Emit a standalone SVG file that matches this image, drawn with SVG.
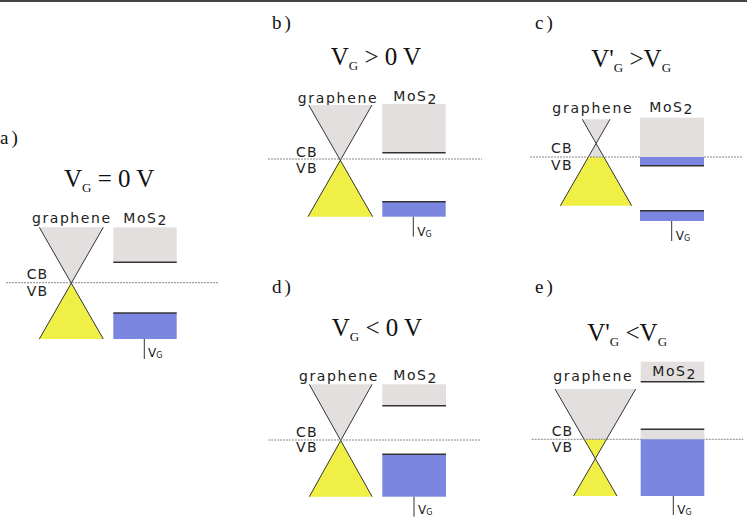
<svg xmlns="http://www.w3.org/2000/svg" width="749" height="518" viewBox="0 0 749 518">
<style>
.lab{font-family:"Liberation Serif","Times New Roman",serif;font-size:19px;fill:#111;letter-spacing:3px}
.ttl{font-family:"Liberation Serif","Times New Roman",serif;font-size:25px;fill:#111}
.sub{font-size:13px}
.sm{font-family:"DejaVu Sans",Verdana,sans-serif;font-size:14px;fill:#222}
.vg{font-family:"DejaVu Sans",Verdana,sans-serif;font-size:12px;fill:#222}
.vgs{font-size:8px}
.gray{fill:#e3dfdf}
.yel{fill:#efef45}
.blue{fill:#7b86e0}
.edge{stroke:#333;stroke-width:1.6;fill:none}
.cone{stroke:#333;stroke-width:1;fill:none}
.dash{stroke:#888;stroke-width:1;stroke-dasharray:2 1;fill:none}
.tick{stroke:#333;stroke-width:1;fill:none}
</style>
<rect x="0" y="0" width="749" height="518" fill="#fff"/>
<line x1="0" y1="1" x2="747" y2="1" stroke="#444" stroke-width="2"/>

<!-- panel a -->
<g id="panel-a">
<text class="lab" x="0" y="144">a)</text>
<text class="ttl" x="64" y="187">V<tspan class="sub" dy="5">G</tspan><tspan dy="-5"> = 0 V</tspan></text>
<text class="sm" x="32" y="222.7" textLength="78" lengthAdjust="spacing">graphene</text>
<text class="sm" x="123.3" y="222.7" textLength="43" lengthAdjust="spacing">MoS<tspan dy="2.5">2</tspan></text>
<polygon class="gray" points="39.3,227.3 103.3,227.3 71.3,283.5"/>
<polygon class="yel" points="71.3,283.5 39.3,339 103.3,339"/>
<line class="cone" x1="39.3" y1="227.3" x2="103.3" y2="339"/>
<line class="cone" x1="103.3" y1="227.3" x2="39.3" y2="339"/>
<line class="dash" x1="6" y1="282.7" x2="219" y2="282.7"/>
<text class="sm" x="26.7" y="279.3" textLength="20.5" lengthAdjust="spacing">CB</text>
<text class="sm" x="26.7" y="296" textLength="20.5" lengthAdjust="spacing">VB</text>
<rect class="gray" x="113.3" y="227.3" width="63.4" height="35"/>
<line class="edge" x1="113.3" y1="262.3" x2="176.7" y2="262.3"/>
<rect class="blue" x="113.3" y="313" width="63.4" height="26"/>
<line class="edge" x1="113.3" y1="313" x2="176.7" y2="313"/>
<line class="tick" x1="144.3" y1="339" x2="144.3" y2="359"/>
<text class="vg" x="148" y="357">V<tspan class="vgs" dy="1">G</tspan></text>
</g>

<!-- panel b -->
<g id="panel-b">
<text class="lab" x="272" y="29">b)</text>
<text class="ttl" x="330.7" y="65">V<tspan class="sub" dy="5">G</tspan><tspan dy="-5"> &gt; 0 V</tspan></text>
<text class="sm" x="297.7" y="102.7" textLength="79" lengthAdjust="spacing">graphene</text>
<text class="sm" x="393.3" y="101" textLength="43" lengthAdjust="spacing">MoS<tspan dy="2.5">2</tspan></text>
<polygon class="gray" points="308.7,105 372,105 340.3,160"/>
<polygon class="yel" points="340.3,160 308,216.7 372.6,216.7"/>
<line class="cone" x1="308.7" y1="105" x2="372.6" y2="216.7"/>
<line class="cone" x1="372" y1="105" x2="308" y2="216.7"/>
<line class="dash" x1="268" y1="159" x2="482" y2="159"/>
<text class="sm" x="296" y="156.7" textLength="20.5" lengthAdjust="spacing">CB</text>
<text class="sm" x="296" y="172.7" textLength="20.5" lengthAdjust="spacing">VB</text>
<rect class="gray" x="382.3" y="104" width="63.4" height="48.7"/>
<line class="edge" x1="382.3" y1="152.7" x2="445.7" y2="152.7"/>
<rect class="blue" x="382.3" y="201.7" width="63.4" height="15"/>
<line class="edge" x1="382.3" y1="201.7" x2="445.7" y2="201.7"/>
<line class="tick" x1="413.3" y1="216.7" x2="413.3" y2="236.7"/>
<text class="vg" x="417.3" y="236">V<tspan class="vgs" dy="1">G</tspan></text>
</g>

<!-- panel c -->
<g id="panel-c">
<text class="lab" x="535" y="29">c)</text>
<text class="ttl" x="591.3" y="66.7">V'<tspan class="sub" dy="5">G</tspan><tspan dy="-5"> &gt;V</tspan><tspan class="sub" dy="5">G</tspan></text>
<text class="sm" x="552.3" y="112.7" textLength="79.4" lengthAdjust="spacing">graphene</text>
<text class="sm" x="649.3" y="111.7" textLength="43" lengthAdjust="spacing">MoS<tspan dy="2.5">2</tspan></text>
<polygon class="gray" points="582.3,119.3 610,119.3 596.1,143.3"/>
<polygon class="gray" points="596.1,143.3 603.9,157 588.3,157"/>
<polygon class="yel" points="588.3,157 603.9,157 631.7,205.7 560.4,205.7"/>
<line class="cone" x1="582.3" y1="119.3" x2="631.7" y2="205.7"/>
<line class="cone" x1="610" y1="119.3" x2="560.4" y2="205.7"/>
<line class="dash" x1="530" y1="157" x2="742" y2="157"/>
<text class="sm" x="551" y="153.3" textLength="20.5" lengthAdjust="spacing">CB</text>
<text class="sm" x="551" y="170" textLength="20.5" lengthAdjust="spacing">VB</text>
<rect class="gray" x="640" y="117.7" width="64" height="39.3"/>
<rect class="blue" x="640" y="157" width="64" height="8.7"/>
<line class="edge" x1="640" y1="165.7" x2="704" y2="165.7"/>
<rect class="blue" x="640" y="210.7" width="64" height="10.3"/>
<line class="edge" x1="640" y1="210.7" x2="704" y2="210.7"/>
<line class="tick" x1="671.7" y1="221" x2="671.7" y2="241"/>
<text class="vg" x="675.7" y="240">V<tspan class="vgs" dy="1">G</tspan></text>
</g>

<!-- panel d -->
<g id="panel-d">
<text class="lab" x="272" y="293.3">d)</text>
<text class="ttl" x="331.7" y="336">V<tspan class="sub" dy="5">G</tspan><tspan dy="-5"> &lt; 0 V</tspan></text>
<text class="sm" x="299" y="381" textLength="78.3" lengthAdjust="spacing">graphene</text>
<text class="sm" x="393.3" y="380" textLength="43" lengthAdjust="spacing">MoS<tspan dy="2.5">2</tspan></text>
<polygon class="gray" points="309.3,384.3 372.1,384.3 340.7,440.5"/>
<polygon class="yel" points="340.7,440.5 309.3,496.7 372.1,496.7"/>
<line class="cone" x1="309.3" y1="384.3" x2="372.1" y2="496.7"/>
<line class="cone" x1="372.1" y1="384.3" x2="309.3" y2="496.7"/>
<line class="dash" x1="268" y1="440" x2="480" y2="440"/>
<text class="sm" x="296" y="436.7" textLength="20.5" lengthAdjust="spacing">CB</text>
<text class="sm" x="296" y="452.3" textLength="20.5" lengthAdjust="spacing">VB</text>
<rect class="gray" x="382.3" y="384.3" width="63.7" height="21.4"/>
<line class="edge" x1="382.3" y1="405.7" x2="446" y2="405.7"/>
<rect class="blue" x="382.3" y="454.3" width="63.7" height="42.4"/>
<line class="edge" x1="382.3" y1="454.3" x2="446" y2="454.3"/>
<line class="tick" x1="414" y1="496.7" x2="414" y2="516.7"/>
<text class="vg" x="418" y="514">V<tspan class="vgs" dy="1">G</tspan></text>
</g>

<!-- panel e -->
<g id="panel-e">
<text class="lab" x="535" y="293.3">e)</text>
<text class="ttl" x="587.3" y="341">V'<tspan class="sub" dy="5">G</tspan><tspan dy="-5"> &lt;V</tspan><tspan class="sub" dy="5">G</tspan></text>
<text class="sm" x="553.3" y="381" textLength="78.4" lengthAdjust="spacing">graphene</text>
<rect class="gray" x="640.7" y="361.7" width="63.6" height="20"/>
<line class="edge" x1="640.7" y1="381.7" x2="704.3" y2="381.7"/>
<text class="sm" x="652.3" y="376" textLength="43" lengthAdjust="spacing">MoS<tspan dy="2.5">2</tspan></text>
<polygon class="gray" points="555,389 635.7,389 606.7,439.3 583.9,439.3"/>
<polygon class="yel" points="583.9,439.3 606.7,439.3 595.3,459"/>
<polygon class="yel" points="595.3,459 573.6,496 617,496"/>
<line class="cone" x1="555" y1="389" x2="617" y2="496"/>
<line class="cone" x1="635.7" y1="389" x2="573.6" y2="496"/>
<line class="dash" x1="531.7" y1="439.3" x2="743.3" y2="439.3"/>
<text class="sm" x="551.7" y="435.7" textLength="20.5" lengthAdjust="spacing">CB</text>
<text class="sm" x="551.7" y="451.7" textLength="20.5" lengthAdjust="spacing">VB</text>
<rect class="gray" x="640.7" y="429.3" width="63.6" height="10"/>
<line class="edge" x1="640.7" y1="429.3" x2="704.3" y2="429.3"/>
<rect class="blue" x="640.7" y="439.3" width="63.6" height="56.7"/>
<line class="tick" x1="673.3" y1="496" x2="673.3" y2="515"/>
<text class="vg" x="677.3" y="514">V<tspan class="vgs" dy="1">G</tspan></text>
</g>
</svg>
